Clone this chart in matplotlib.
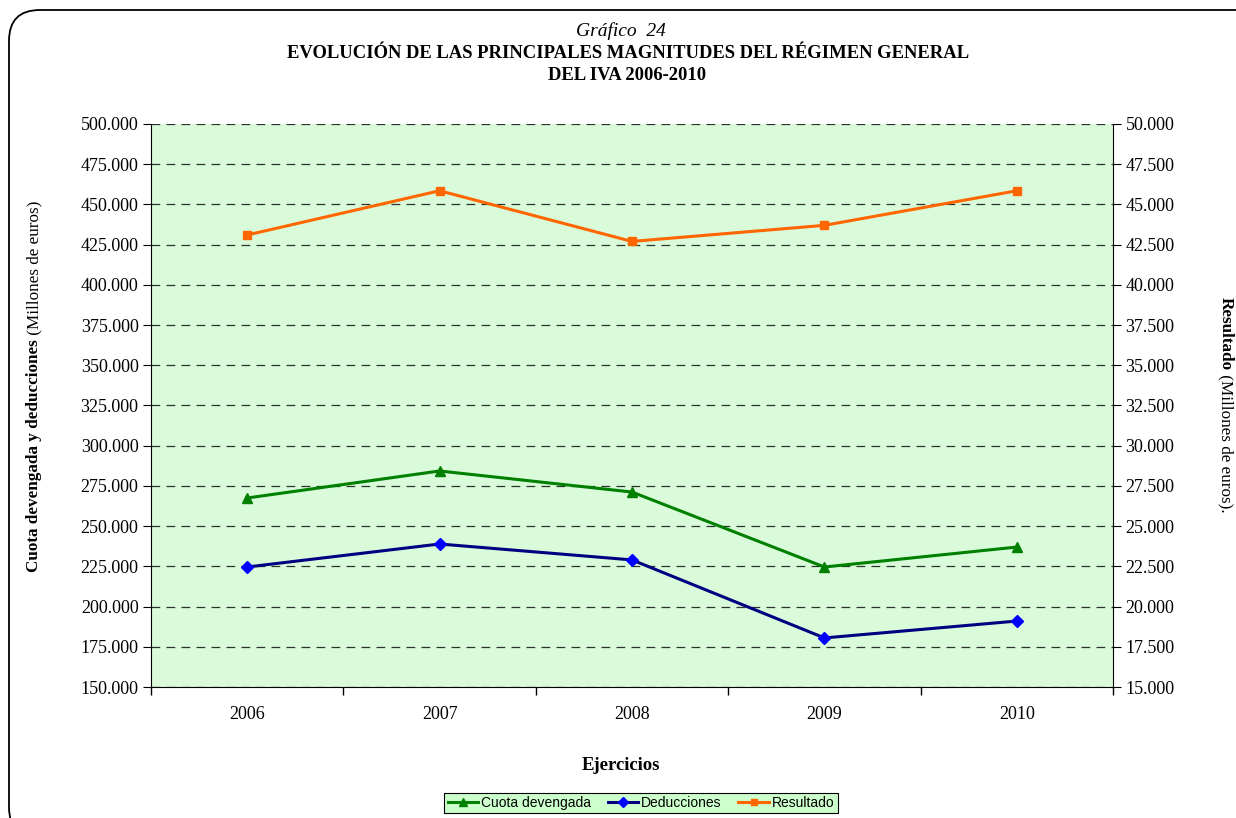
import numpy as np
import matplotlib
matplotlib.use('Agg')
import matplotlib.pyplot as plt
from matplotlib.patches import FancyBboxPatch
from matplotlib.ticker import FuncFormatter, FixedLocator, MultipleLocator

# data (millones de euros)
years = ['2006', '2007', '2008', '2009', '2010']
cuota = [267500, 284300, 271200, 224600, 237000]
deducciones = [224600, 238900, 229000, 180500, 191000]
resultado = [43100, 45850, 42700, 43700, 45850]

plt.rcParams['font.family'] = ['Liberation Serif', 'DejaVu Serif']

def miles(v, pos):
    return '{:,.3f}'.format(v / 1000.).replace(',', '.')

fig = plt.figure(figsize=(12.36, 8.18), dpi=100)
W, H = 1236., 818.

# rounded frame round the whole chart
frame = FancyBboxPatch((9 / W, -20 / H), 1260 / W, (808 + 20) / H,
                       boxstyle='round,pad=0,rounding_size=0.025',
                       transform=fig.transFigure, fill=False,
                       edgecolor='black', linewidth=1.3, mutation_aspect=W / H)
fig.patches.append(frame)

ax = fig.add_axes([151 / W, 1 - 687 / H, (1113 - 151) / W, (687 - 124) / H])
ax.set_facecolor('#dafbda')
x = np.arange(len(years))

l1, = ax.plot(x, cuota, color='#008000', lw=2.2, marker='^', ms=7, mfc='#008000', mec='#008000', zorder=3)
l2, = ax.plot(x, deducciones, color='#000080', lw=2.2, marker='D', ms=6, mfc='#0000ff', mec='#0000ff', zorder=3)

ax.set_xlim(-0.5, 4.5)
ax.set_ylim(150000, 500000)
ax.yaxis.set_major_locator(MultipleLocator(25000))
ax.yaxis.set_major_formatter(FuncFormatter(miles))
ax.set_xticks(x)
ax.set_xticklabels(years)
ax.xaxis.set_minor_locator(FixedLocator(np.arange(-0.5, 5, 1.0)))
ax.tick_params(axis='x', which='major', length=0, pad=14, labelsize=13)
ax.tick_params(axis='x', which='minor', length=6, direction='out', width=1)
ax.tick_params(axis='y', length=6, direction='out', labelsize=13, pad=3)
ax.grid(axis='y', color='black', linestyle=(0, (7, 5)), linewidth=0.9, alpha=0.8)
for s in ['top', 'right']:
    ax.spines[s].set_visible(False)

ax2 = ax.twinx()
l3, = ax2.plot(x, resultado, color='#ff6600', lw=2.2, marker='s', ms=6, mfc='#ff6600', mec='#ff6600', zorder=3)
ax2.set_ylim(15000, 50000)
ax2.yaxis.set_major_locator(MultipleLocator(2500))
ax2.yaxis.set_major_formatter(FuncFormatter(miles))
ax2.tick_params(axis='y', length=6, direction='out', labelsize=13, pad=3)
for s in ['top', 'left', 'bottom']:
    ax2.spines[s].set_visible(False)

# titles
fig.text(621 / W, 1 - 31 / H, 'Gráfico  24', ha='center', va='center', fontsize=14, style='italic')
fig.text(628 / W, 1 - 53 / H, 'EVOLUCIÓN DE LAS PRINCIPALES MAGNITUDES DEL RÉGIMEN GENERAL',
         ha='center', va='center', fontsize=13.4, fontweight='bold')
fig.text(627 / W, 1 - 76 / H, 'DEL IVA 2006-2010', ha='center', va='center', fontsize=13.4, fontweight='bold')

# axis labels (part bold, part normal)
fig.text(34 / W, 1 - 339 / H, 'Cuota devengada y deducciones', rotation=90, ha='center', va='top',
         fontsize=12.3, fontweight='bold')
fig.text(34 / W, 1 - 339 / H, ' (Millones de euros)', rotation=90, ha='center', va='bottom', fontsize=12.3)
fig.text(1226 / W, 1 - 370 / H, 'Resultado', rotation=-90, ha='center', va='bottom', fontsize=12.3,
         fontweight='bold')
fig.text(1226 / W, 1 - 370 / H, ' (Millones de euros).', rotation=-90, ha='center', va='top', fontsize=12.3)

fig.text(621 / W, 1 - 765 / H, 'Ejercicios', ha='center', va='center', fontsize=13.5, fontweight='bold')

leg = fig.legend([l1, l2, l3], ['Cuota devengada', 'Deducciones', 'Resultado'], loc='center',
                 bbox_to_anchor=(641 / W, 1 - 803 / H), ncol=3, frameon=True, fancybox=False,
                 prop={'family': 'Liberation Sans', 'size': 10}, handlelength=2.2, handletextpad=0.2,
                 columnspacing=1.2, borderpad=0.25, markerscale=0.8)
leg.get_frame().set_facecolor('#ccffcc')
leg.get_frame().set_edgecolor('black')
leg.get_frame().set_linewidth(0.8)
leg.get_frame().set_alpha(1)

fig.savefig('out.png', dpi=100)
